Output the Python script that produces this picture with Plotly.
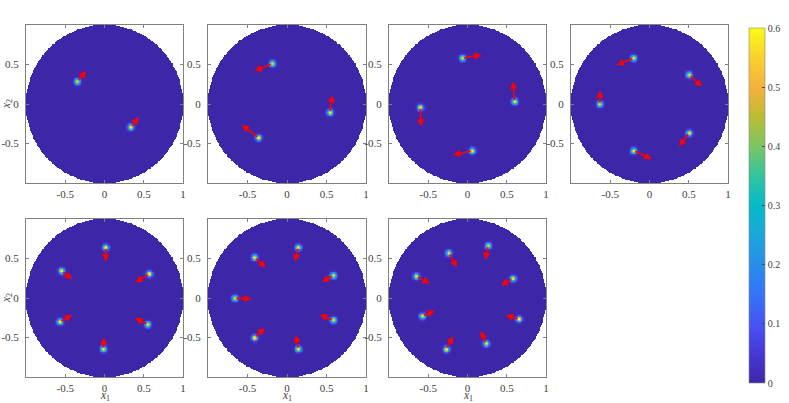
import numpy as np
import plotly.graph_objects as go

# ---- data (blob centres and arrow vectors per panel) ----
blob_x = [
    [-0.346, 0.333],
    [-0.186, 0.544, -0.359],
    [-0.064, 0.600, -0.600, 0.060],
    [-0.201, 0.505, -0.632, 0.505, -0.201],
    [0.015, 0.571, -0.546, -0.567, 0.550, -0.015],
    [0.143, -0.409, 0.586, -0.658, 0.586, -0.409, 0.143],
    [0.264, -0.238, -0.651, 0.579, -0.574, 0.655, 0.238, -0.268],
]
blob_y = [
    [0.284, -0.293],
    [0.512, -0.107, -0.427],
    [0.579, 0.032, -0.044, -0.592],
    [0.579, 0.368, -0.002, -0.368, -0.592],
    [0.640, 0.305, 0.343, -0.301, -0.335, -0.644],
    [0.640, 0.513, 0.284, -0.004, -0.280, -0.504, -0.644],
    [0.661, 0.568, 0.275, 0.246, -0.229, -0.267, -0.576, -0.648],
]
arrow_u = [
    [0.115, 0.106],
    [-0.224, 0.030, -0.211],
    [0.243, -0.021, 0.009, -0.243],
    [-0.216, 0.165, 0.000, -0.127, 0.228],
    [0.000, -0.178, 0.136, 0.157, -0.161, 0.008],
    [-0.042, 0.143, -0.143, 0.207, -0.173, 0.127, -0.030],
    [-0.038, 0.106, 0.170, -0.153, 0.157, -0.166, -0.068, 0.085],
]
arrow_v = [
    [0.135, 0.126],
    [-0.093, 0.219, 0.160],
    [0.043, 0.253, -0.240, -0.051],
    [-0.084, -0.147, 0.173, -0.168, -0.105],
    [-0.178, -0.110, -0.106, 0.085, 0.081, 0.144],
    [-0.178, -0.127, -0.080, -0.004, 0.068, 0.127, 0.174],
    [-0.178, -0.178, -0.093, -0.085, 0.068, 0.051, 0.157, 0.165],
]
peak_value = 0.6
blob_sigma = 0.024
cbar_ticks = [0, 0.1, 0.2, 0.3, 0.4, 0.5, 0.6]
cbar_labels = ["0", "0.1", "0.2", "0.3", "0.4", "0.5", "0.6"]
x_ticks = [-0.5, 0, 0.5, 1]
x_tick_labels = ["-0.5", "0", "0.5", "1"]
y_ticks = [-0.5, 0, 0.5]
y_tick_labels = ["-0.5", "0", "0.5"]

parula = [
    [0.000, "rgb(62,38,168)"],
    [0.083, "rgb(70,56,214)"],
    [0.167, "rgb(70,84,245)"],
    [0.250, "rgb(52,116,250)"],
    [0.333, "rgb(40,142,234)"],
    [0.417, "rgb(27,167,219)"],
    [0.500, "rgb(3,187,200)"],
    [0.583, "rgb(50,196,160)"],
    [0.667, "rgb(122,198,100)"],
    [0.750, "rgb(190,188,50)"],
    [0.833, "rgb(246,176,60)"],
    [0.917, "rgb(249,209,45)"],
    [1.000, "rgb(249,251,21)"],
]

W, H = 789, 403
col_px = [(26, 183), (208, 366), (389, 546), (571, 728)]
row_px = [(25, 183), (219, 377)]

grid = np.linspace(-1, 1, 201)
GX, GY = np.meshgrid(grid, grid)
outside = GX**2 + GY**2 > 1.0

FONT = "Liberation Serif, Times New Roman, serif"
TXT = "#404040"
AX = "#808080"

fig = go.Figure()
layout = {}
annotations = []
for i in range(7):
    r, c = divmod(i, 4)
    n = i + 1
    xa = "x" if n == 1 else f"x{n}"
    ya = "y" if n == 1 else f"y{n}"
    xk = "xaxis" if n == 1 else f"xaxis{n}"
    yk = "yaxis" if n == 1 else f"yaxis{n}"

    z = np.zeros_like(GX)
    for bx, by in zip(blob_x[i], blob_y[i]):
        z += peak_value * np.exp(-((GX - bx) ** 2 + (GY - by) ** 2) / (2 * blob_sigma**2))
    z[outside] = np.nan

    fig.add_trace(go.Heatmap(x=grid, y=grid, z=z, coloraxis="coloraxis",
                             xaxis=xa, yaxis=ya, hoverinfo="skip"))

    x0, x1 = col_px[c]
    y0, y1 = row_px[r]
    layout[xk] = dict(
        domain=[x0 / W, x1 / W], anchor=ya, range=[-1, 1], automargin=False,
        tickvals=x_ticks, ticktext=x_tick_labels, ticks="inside", ticklen=3,
        tickcolor=AX, showline=True, linecolor=AX, linewidth=1, mirror="allticks",
        showgrid=False, zeroline=False, ticklabelstandoff=1,
        tickfont=dict(family=FONT, size=11, color=TXT),
    )
    layout[yk] = dict(
        domain=[1 - y1 / H, 1 - y0 / H], anchor=xa, range=[-1, 1], automargin=False,
        tickvals=y_ticks, ticktext=y_tick_labels, ticks="inside", ticklen=3,
        tickcolor=AX, showline=True, linecolor=AX, linewidth=1, mirror="allticks",
        showgrid=False, zeroline=False, ticklabelstandoff=4,
        tickfont=dict(family=FONT, size=11, color=TXT),
    )
    if r == 1:
        annotations.append(dict(
            text="<i>x</i><sub>1</sub>", xref="paper", yref="paper",
            x=(x0 + x1) / 2 / W, y=1 - 395.5 / H, xanchor="center", yanchor="middle",
            borderpad=0, showarrow=False, font=dict(family=FONT, size=11.5, color=TXT)))
    if c == 0:
        annotations.append(dict(
            text="<i>x</i><sub>2</sub>", xref="paper", yref="paper",
            x=7 / W, y=1 - (y0 + y1) / 2 / H, xanchor="center", yanchor="middle",
            borderpad=0, textangle=-90, showarrow=False,
            font=dict(family=FONT, size=11.5, color=TXT)))

    for bx, by, u, v in zip(blob_x[i], blob_y[i], arrow_u[i], arrow_v[i]):
        annotations.append(dict(
            x=bx + u, y=by + v, ax=bx, ay=by, xref=xa, yref=ya, axref=xa, ayref=ya,
            showarrow=True, arrowhead=2, arrowsize=0.9, arrowwidth=1.6,
            arrowcolor="#ff0000", standoff=0, startstandoff=0, text="",
        ))

fig.update_layout(
    width=W, height=H,
    margin=dict(l=0, r=0, t=0, b=0, autoexpand=False),
    paper_bgcolor="white", plot_bgcolor="white",
    showlegend=False,
    annotations=annotations,
    coloraxis=dict(
        colorscale=parula, cmin=0, cmax=0.6,
        colorbar=dict(
            x=749 / W, xanchor="left", xpad=0,
            y=1 - 205.5 / H, yanchor="middle", ypad=0,
            len=355 / H, lenmode="fraction", thickness=16, thicknessmode="pixels",
            tickvals=cbar_ticks, ticktext=cbar_labels, ticks="inside", ticklen=3,
            tickcolor="#444444", outlinewidth=0.6, outlinecolor="#888888",
            tickfont=dict(family=FONT, size=10, color=TXT),
        ),
    ),
    **layout,
)

fig.write_html(
    "out.html",
    config={"displayModeBar": False, "staticPlot": True},
    post_script="document.body.style.margin='0';document.body.style.overflow='hidden';",
)
